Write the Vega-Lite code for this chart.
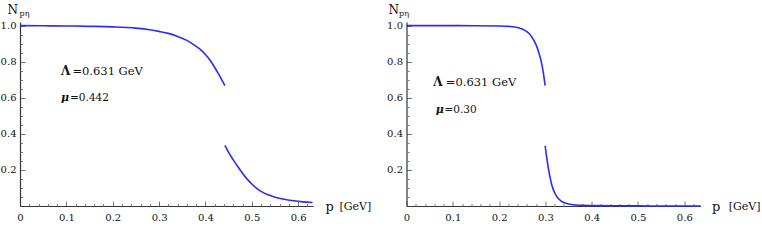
{
  "$schema": "https://vega.github.io/schema/vega-lite/v6.json",
  "autosize": {"type": "pad"},
  "padding": {"left": 0, "top": 3, "right": 2, "bottom": 2},
  "background": "white",
  "bounds": "flush",
  "spacing": 93.5,
  "config": {
    "view": {"stroke": null},
    "axis": {"grid": false, "domainColor": "#333", "domainWidth": 1.2, "tickColor": "#777", "tickWidth": 1, "labelColor": "#111", "labelFont": "DejaVu Serif", "labelFontSize": 10, "titleFont": "DejaVu Serif", "titleFontWeight": "normal", "titleColor": "#111", "labelFlush": false, "labelOverlap": false},
    "text": {"font": "DejaVu Serif", "color": "#111"}
  },
  "datasets": {
    "curves": [
      {"panel": "L", "branch": "a", "p": 0, "N": 1.0},
      {"panel": "L", "branch": "a", "p": 0.05, "N": 0.999},
      {"panel": "L", "branch": "a", "p": 0.1, "N": 0.998},
      {"panel": "L", "branch": "a", "p": 0.15, "N": 0.996},
      {"panel": "L", "branch": "a", "p": 0.2, "N": 0.993},
      {"panel": "L", "branch": "a", "p": 0.25, "N": 0.986},
      {"panel": "L", "branch": "a", "p": 0.28, "N": 0.977},
      {"panel": "L", "branch": "a", "p": 0.3, "N": 0.968},
      {"panel": "L", "branch": "a", "p": 0.32, "N": 0.957},
      {"panel": "L", "branch": "a", "p": 0.34, "N": 0.94},
      {"panel": "L", "branch": "a", "p": 0.36, "N": 0.918},
      {"panel": "L", "branch": "a", "p": 0.38, "N": 0.885},
      {"panel": "L", "branch": "a", "p": 0.39, "N": 0.866},
      {"panel": "L", "branch": "a", "p": 0.4, "N": 0.84},
      {"panel": "L", "branch": "a", "p": 0.41, "N": 0.808},
      {"panel": "L", "branch": "a", "p": 0.42, "N": 0.768},
      {"panel": "L", "branch": "a", "p": 0.43, "N": 0.724},
      {"panel": "L", "branch": "a", "p": 0.442, "N": 0.667},
      {"panel": "L", "branch": "b", "p": 0.442, "N": 0.336},
      {"panel": "L", "branch": "b", "p": 0.45, "N": 0.297},
      {"panel": "L", "branch": "b", "p": 0.46, "N": 0.256},
      {"panel": "L", "branch": "b", "p": 0.47, "N": 0.218},
      {"panel": "L", "branch": "b", "p": 0.48, "N": 0.182},
      {"panel": "L", "branch": "b", "p": 0.49, "N": 0.149},
      {"panel": "L", "branch": "b", "p": 0.5, "N": 0.122},
      {"panel": "L", "branch": "b", "p": 0.51, "N": 0.099},
      {"panel": "L", "branch": "b", "p": 0.52, "N": 0.081},
      {"panel": "L", "branch": "b", "p": 0.535, "N": 0.062},
      {"panel": "L", "branch": "b", "p": 0.55, "N": 0.049},
      {"panel": "L", "branch": "b", "p": 0.57, "N": 0.037},
      {"panel": "L", "branch": "b", "p": 0.59, "N": 0.029},
      {"panel": "L", "branch": "b", "p": 0.61, "N": 0.023},
      {"panel": "L", "branch": "b", "p": 0.631, "N": 0.019},
      {"panel": "R", "branch": "a", "p": 0, "N": 1.0},
      {"panel": "R", "branch": "a", "p": 0.1, "N": 1.0},
      {"panel": "R", "branch": "a", "p": 0.15, "N": 0.999},
      {"panel": "R", "branch": "a", "p": 0.2, "N": 0.998},
      {"panel": "R", "branch": "a", "p": 0.22, "N": 0.996},
      {"panel": "R", "branch": "a", "p": 0.24, "N": 0.99},
      {"panel": "R", "branch": "a", "p": 0.25, "N": 0.981},
      {"panel": "R", "branch": "a", "p": 0.26, "N": 0.966},
      {"panel": "R", "branch": "a", "p": 0.27, "N": 0.94},
      {"panel": "R", "branch": "a", "p": 0.28, "N": 0.893},
      {"panel": "R", "branch": "a", "p": 0.285, "N": 0.857},
      {"panel": "R", "branch": "a", "p": 0.29, "N": 0.812},
      {"panel": "R", "branch": "a", "p": 0.295, "N": 0.748},
      {"panel": "R", "branch": "a", "p": 0.2995, "N": 0.667},
      {"panel": "R", "branch": "b", "p": 0.2995, "N": 0.334},
      {"panel": "R", "branch": "b", "p": 0.303, "N": 0.265},
      {"panel": "R", "branch": "b", "p": 0.307, "N": 0.2},
      {"panel": "R", "branch": "b", "p": 0.31, "N": 0.16},
      {"panel": "R", "branch": "b", "p": 0.314, "N": 0.115},
      {"panel": "R", "branch": "b", "p": 0.318, "N": 0.085},
      {"panel": "R", "branch": "b", "p": 0.322, "N": 0.063},
      {"panel": "R", "branch": "b", "p": 0.326, "N": 0.047},
      {"panel": "R", "branch": "b", "p": 0.33, "N": 0.036},
      {"panel": "R", "branch": "b", "p": 0.335, "N": 0.026},
      {"panel": "R", "branch": "b", "p": 0.34, "N": 0.019},
      {"panel": "R", "branch": "b", "p": 0.35, "N": 0.011},
      {"panel": "R", "branch": "b", "p": 0.36, "N": 0.007},
      {"panel": "R", "branch": "b", "p": 0.38, "N": 0.004},
      {"panel": "R", "branch": "b", "p": 0.4, "N": 0.002},
      {"panel": "R", "branch": "b", "p": 0.45, "N": 0.001},
      {"panel": "R", "branch": "b", "p": 0.5, "N": 0.0005},
      {"panel": "R", "branch": "b", "p": 0.55, "N": 0.0002},
      {"panel": "R", "branch": "b", "p": 0.635, "N": 0.0001}
    ],
    "one": [{}]
  },
  "hconcat": [
    {
      "width": 293,
      "height": 184,
      "resolve": {"axis": {"x": "independent", "y": "independent"}},
      "layer": [
        {
          "data": {"name": "curves"},
          "transform": [{"filter": "datum.panel == 'L'"}],
          "mark": {"type": "line", "color": "#2b2bff", "strokeWidth": 1.6, "interpolate": "monotone"},
          "encoding": {
            "x": {"field": "p", "type": "quantitative", "scale": {"domain": [0, 0.632], "nice": false, "zero": false},
              "axis": {"orient": "bottom", "title": "p", "titleFontSize": 13, "titleX": 305, "titleY": 4, "titleAlign": "left", "titleBaseline": "alphabetic", "titleAngle": 0,
                "values": [0, 0.1, 0.2, 0.3, 0.4, 0.5, 0.6],
                "labelExpr": "datum.value == 0 ? '0' : format(datum.value, '.1f')",
                "tickSize": -5, "labelPadding": 11}},
            "y": {"field": "N", "type": "quantitative", "scale": {"domain": [0, 1.02], "nice": false},
              "axis": {"orient": "left", "title": "N", "titleFontSize": 12, "titleAngle": 0, "titleX": -2.5, "titleY": -9, "titleAlign": "right", "titleBaseline": "alphabetic",
                "values": [0.2, 0.4, 0.6, 0.8, 1.0], "format": ".1f",
                "tickSize": -5, "labelPadding": 9}},
            "detail": {"field": "branch"}
          }
        },
        {"data": {"name": "one"}, "mark": {"type": "text", "align": "left", "baseline": "alphabetic", "fontSize": 11},
          "encoding": {
            "x": {"datum": 0.689, "type": "quantitative", "axis": {"orient": "bottom", "title": null, "labels": false, "domain": false, "tickSize": -2.5,
              "values": [0.02, 0.04, 0.06, 0.08, 0.12, 0.14, 0.16, 0.18, 0.22, 0.24, 0.26, 0.28, 0.32, 0.34, 0.36, 0.38, 0.42, 0.44, 0.46, 0.48, 0.52, 0.54, 0.56, 0.58, 0.62]}},
            "y": {"datum": -0.022, "type": "quantitative", "axis": {"orient": "left", "title": null, "labels": false, "domain": false, "tickSize": -2.5,
              "values": [0.05, 0.1, 0.15, 0.25, 0.3, 0.35, 0.45, 0.5, 0.55, 0.65, 0.7, 0.75, 0.85, 0.9, 0.95]}},
            "text": {"value": "[GeV]"}}},
        {"data": {"name": "one"}, "mark": {"type": "text", "align": "left", "baseline": "alphabetic", "fontSize": 8}, "encoding": {"x": {"datum": -0.001, "axis": null}, "y": {"datum": 1.051, "axis": null}, "text": {"value": "pη"}}},
        {"data": {"name": "one"}, "mark": {"type": "text", "align": "left", "baseline": "alphabetic", "fontSize": 12, "fontWeight": "bold"}, "encoding": {"x": {"datum": 0.0886, "axis": null}, "y": {"datum": 0.725, "axis": null}, "text": {"value": "Λ"}}},
        {"data": {"name": "one"}, "mark": {"type": "text", "align": "left", "baseline": "alphabetic", "fontSize": 11.5}, "encoding": {"x": {"datum": 0.113, "axis": null}, "y": {"datum": 0.725, "axis": null}, "text": {"value": "=0.631 GeV"}}},
        {"data": {"name": "one"}, "mark": {"type": "text", "align": "left", "baseline": "alphabetic", "fontSize": 11, "fontWeight": "bold", "fontStyle": "italic"}, "encoding": {"x": {"datum": 0.0886, "axis": null}, "y": {"datum": 0.581, "axis": null}, "text": {"value": "μ"}}},
        {"data": {"name": "one"}, "mark": {"type": "text", "align": "left", "baseline": "alphabetic", "fontSize": 10.5}, "encoding": {"x": {"datum": 0.108, "axis": null}, "y": {"datum": 0.581, "axis": null}, "text": {"value": "=0.442"}}}
      ]
    },
    {
      "width": 294,
      "height": 184,
      "resolve": {"axis": {"x": "independent", "y": "independent"}},
      "layer": [
        {
          "data": {"name": "curves"},
          "transform": [{"filter": "datum.panel == 'R'"}],
          "mark": {"type": "line", "color": "#2b2bff", "strokeWidth": 1.6, "interpolate": "monotone"},
          "encoding": {
            "x": {"field": "p", "type": "quantitative", "scale": {"domain": [0, 0.635], "nice": false, "zero": false},
              "axis": {"orient": "bottom", "title": "p", "titleFontSize": 13, "titleX": 305, "titleY": 4, "titleAlign": "left", "titleBaseline": "alphabetic", "titleAngle": 0,
                "values": [0, 0.1, 0.2, 0.3, 0.4, 0.5, 0.6],
                "labelExpr": "datum.value == 0 ? '0' : format(datum.value, '.1f')",
                "tickSize": -5, "labelPadding": 11}},
            "y": {"field": "N", "type": "quantitative", "scale": {"domain": [0, 1.02], "nice": false},
              "axis": {"orient": "left", "title": "N", "titleFontSize": 12, "titleAngle": 0, "titleX": -8, "titleY": -9, "titleAlign": "right", "titleBaseline": "alphabetic",
                "values": [0.2, 0.4, 0.6, 0.8, 1.0], "format": ".1f",
                "tickSize": -5, "labelPadding": 9}},
            "detail": {"field": "branch"}
          }
        },
        {"data": {"name": "one"}, "mark": {"type": "text", "align": "left", "baseline": "alphabetic", "fontSize": 11},
          "encoding": {
            "x": {"datum": 0.696, "type": "quantitative", "axis": {"orient": "bottom", "title": null, "labels": false, "domain": false, "tickSize": -2.5,
              "values": [0.02, 0.04, 0.06, 0.08, 0.12, 0.14, 0.16, 0.18, 0.22, 0.24, 0.26, 0.28, 0.32, 0.34, 0.36, 0.38, 0.42, 0.44, 0.46, 0.48, 0.52, 0.54, 0.56, 0.58, 0.62]}},
            "y": {"datum": -0.022, "type": "quantitative", "axis": {"orient": "left", "title": null, "labels": false, "domain": false, "tickSize": -2.5,
              "values": [0.05, 0.1, 0.15, 0.25, 0.3, 0.35, 0.45, 0.5, 0.55, 0.65, 0.7, 0.75, 0.85, 0.9, 0.95]}},
            "text": {"value": "[GeV]"}}},
        {"data": {"name": "one"}, "mark": {"type": "text", "align": "left", "baseline": "alphabetic", "fontSize": 8}, "encoding": {"x": {"datum": -0.016, "axis": null}, "y": {"datum": 1.051, "axis": null}, "text": {"value": "pη"}}},
        {"data": {"name": "one"}, "mark": {"type": "text", "align": "left", "baseline": "alphabetic", "fontSize": 12, "fontWeight": "bold"}, "encoding": {"x": {"datum": 0.058, "axis": null}, "y": {"datum": 0.664, "axis": null}, "text": {"value": "Λ"}}},
        {"data": {"name": "one"}, "mark": {"type": "text", "align": "left", "baseline": "alphabetic", "fontSize": 11.5}, "encoding": {"x": {"datum": 0.085, "axis": null}, "y": {"datum": 0.664, "axis": null}, "text": {"value": "=0.631 GeV"}}},
        {"data": {"name": "one"}, "mark": {"type": "text", "align": "left", "baseline": "alphabetic", "fontSize": 11, "fontWeight": "bold", "fontStyle": "italic"}, "encoding": {"x": {"datum": 0.063, "axis": null}, "y": {"datum": 0.515, "axis": null}, "text": {"value": "μ"}}},
        {"data": {"name": "one"}, "mark": {"type": "text", "align": "left", "baseline": "alphabetic", "fontSize": 10.5}, "encoding": {"x": {"datum": 0.082, "axis": null}, "y": {"datum": 0.515, "axis": null}, "text": {"value": "=0.30"}}}
      ]
    }
  ]
}
